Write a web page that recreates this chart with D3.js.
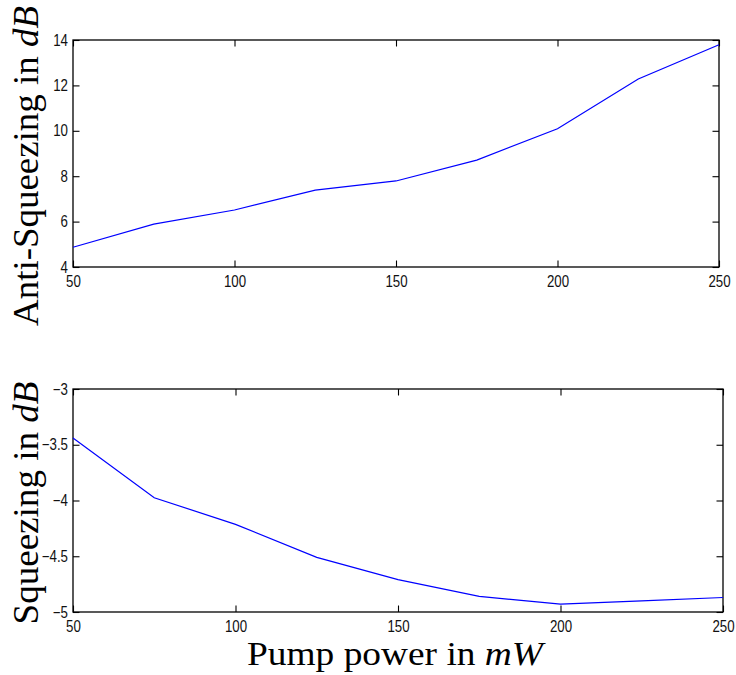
<!DOCTYPE html>
<html>
<head>
<meta charset="utf-8">
<script src="https://cdn.jsdelivr.net/npm/d3@7"></script>
<style>
  html, body { margin: 0; padding: 0; background: #fff; }
  svg { display: block; }
</style>
</head>
<body>
<svg id="chart" width="736" height="675"></svg>
<script>
// ---- data ----
const power = [50, 75, 100, 125, 150, 175, 200, 225, 250];           // mW
const antiSqueezing = [4.87, 5.89, 6.51, 7.39, 7.79, 8.71, 10.09, 12.28, 13.79]; // dB
const squeezing = [-3.44, -3.975, -4.214, -4.51, -4.71, -4.86, -4.93, -4.90, -4.87]; // dB
const xTickValues = [50, 100, 150, 200, 250];
const antiTickValues = [4, 6, 8, 10, 12, 14];
const squeezTickValues = [-5, -4.5, -4, -3.5, -3];
const xLabel = ["Pump power in ", "mW"];
const topYLabel = ["Anti-Squeezing in ", "dB"];
const bottomYLabel = ["Squeezing in ", "dB"];

const svg = d3.select("#chart");
const tickFont = "'Liberation Sans', Arial, Helvetica, sans-serif";
const labelFont = "'Liberation Serif', 'Times New Roman', serif";
const fmt = d => (d < 0 ? "\u2212" + Math.abs(d) : String(d));

function panel(box, yDomain, yTicks, values, yLab, labCenterY, labLength) {
  const x = d3.scaleLinear().domain([50, 250]).range([box.x0, box.x1]);
  const y = d3.scaleLinear().domain(yDomain).range([box.y1, box.y0]);
  const g = svg.append("g");
  const T = 6.5;

  const styleAxis = sel => {
    sel.select(".domain").remove();
    sel.selectAll(".tick line").attr("stroke", "#000").attr("stroke-width", 1.1);
    sel.selectAll("text").attr("font-family", tickFont).attr("font-size", 16).attr("fill", "#111");
  };

  // bottom axis with labels
  const gb = g.append("g").attr("transform", `translate(0,${box.y1})`)
    .call(d3.axisBottom(x).tickValues(xTickValues).tickSizeInner(-T).tickSizeOuter(0).tickPadding(8.6).tickFormat(d => d))
    .call(styleAxis);
  gb.selectAll("text").attr("transform", "scale(0.83,1)");

  // top axis (ticks only)
  g.append("g").attr("transform", `translate(0,${box.y0})`)
    .call(d3.axisTop(x).tickValues(xTickValues).tickSizeInner(-T).tickSizeOuter(0).tickFormat(""))
    .call(styleAxis);

  // left axis with labels
  const gl = g.append("g").attr("transform", `translate(${box.x0},0)`)
    .call(d3.axisLeft(y).tickValues(yTicks).tickSizeInner(-T).tickSizeOuter(0).tickPadding(0).tickFormat(fmt))
    .call(styleAxis);
  gl.selectAll("text").attr("x", 0).attr("transform", "translate(-5,0) scale(0.83,1)");

  // right axis (ticks only)
  g.append("g").attr("transform", `translate(${box.x1},0)`)
    .call(d3.axisRight(y).tickValues(yTicks).tickSizeInner(-T).tickSizeOuter(0).tickFormat(""))
    .call(styleAxis);

  // frame
  g.append("rect")
    .attr("x", box.x0).attr("y", box.y0)
    .attr("width", box.x1 - box.x0).attr("height", box.y1 - box.y0)
    .attr("fill", "none").attr("stroke", "#000").attr("stroke-width", 1.3);

  // data line
  const line = d3.line().x((d, i) => x(power[i])).y(d => y(d));
  g.append("path").datum(values)
    .attr("d", line)
    .attr("fill", "none").attr("stroke", "#0000ff").attr("stroke-width", 1.2);

  // y label
  const t = g.append("text")
    .attr("font-family", labelFont).attr("font-size", 35).attr("fill", "#000")
    .attr("text-anchor", "middle");
  t.append("tspan").text(yLab[0]);
  t.append("tspan").attr("font-style", "italic").text(yLab[1]);
  const natural = t.node().getComputedTextLength();
  const k = labLength / natural;
  t.attr("transform", `translate(38,${labCenterY}) rotate(-90) scale(${k},1)`);
}

panel({ x0: 73, x1: 719, y0: 40, y1: 267 }, [4, 14], antiTickValues, antiSqueezing, topYLabel, 166, 320);
panel({ x0: 73, x1: 723, y0: 389, y1: 612 }, [-5, -3], squeezTickValues, squeezing, bottomYLabel, 503, 243);

// x label
const xl = svg.append("text")
  .attr("font-family", labelFont).attr("font-size", 34).attr("fill", "#000")
  .attr("text-anchor", "middle");
xl.append("tspan").text(xLabel[0]);
xl.append("tspan").attr("font-style", "italic").text(xLabel[1]);
const xlk = 296 / xl.node().getComputedTextLength();
xl.attr("transform", `translate(395,665) scale(${xlk},1)`);
</script>
</body>
</html>
